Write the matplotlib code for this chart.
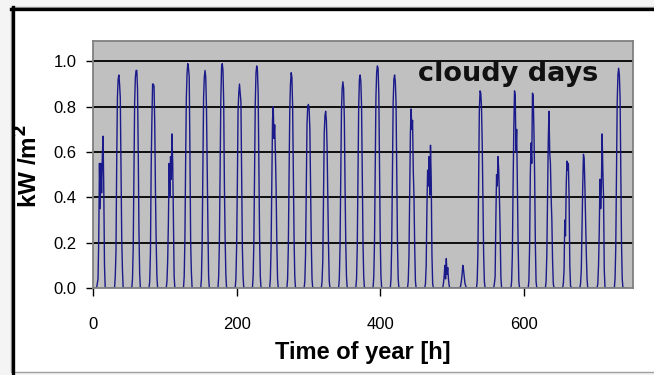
import numpy as np
import matplotlib
matplotlib.use("Agg")
import matplotlib.pyplot as plt
from matplotlib.patches import Rectangle
from matplotlib.lines import Line2D

# Hourly global irradiance [kW/m^2] for daylight hours 06:00 .. 18:00 of each day
first_daylight_hour = 6
week1 = [
    [0.02, 0.04, 0.22, 0.55, 0.35, 0.55, 0.42, 0.58, 0.67, 0.44, 0.10, 0.00, 0.00],
    [0.00, 0.05, 0.16, 0.55, 0.84, 0.92, 0.94, 0.90, 0.84, 0.55, 0.22, 0.08, 0.00],
    [0.00, 0.04, 0.18, 0.52, 0.82, 0.93, 0.96, 0.96, 0.88, 0.60, 0.25, 0.06, 0.00],
    [0.00, 0.03, 0.16, 0.53, 0.74, 0.90, 0.90, 0.89, 0.72, 0.42, 0.20, 0.05, 0.00],
    [0.00, 0.03, 0.12, 0.29, 0.55, 0.40, 0.58, 0.48, 0.68, 0.55, 0.30, 0.05, 0.00],
    [0.00, 0.05, 0.22, 0.56, 0.84, 0.95, 0.99, 0.97, 0.93, 0.60, 0.20, 0.07, 0.00],
    [0.00, 0.04, 0.20, 0.52, 0.84, 0.93, 0.96, 0.93, 0.80, 0.52, 0.28, 0.05, 0.00],
]
week2 = [
    [0.00, 0.05, 0.20, 0.50, 0.83, 0.97, 0.99, 0.96, 0.82, 0.45, 0.22, 0.06, 0.00],
    [0.00, 0.04, 0.18, 0.45, 0.78, 0.86, 0.90, 0.86, 0.82, 0.48, 0.18, 0.05, 0.00],
    [0.00, 0.05, 0.20, 0.50, 0.82, 0.95, 0.98, 0.96, 0.86, 0.55, 0.22, 0.05, 0.00],
    [0.00, 0.04, 0.18, 0.48, 0.74, 0.80, 0.66, 0.72, 0.60, 0.44, 0.20, 0.04, 0.00],
    [0.00, 0.04, 0.18, 0.50, 0.78, 0.90, 0.95, 0.93, 0.80, 0.50, 0.22, 0.05, 0.00],
    [0.00, 0.03, 0.15, 0.45, 0.72, 0.80, 0.81, 0.79, 0.70, 0.45, 0.20, 0.04, 0.00],
    [0.00, 0.03, 0.12, 0.40, 0.68, 0.76, 0.78, 0.74, 0.62, 0.40, 0.18, 0.03, 0.00],
]
week3 = [
    [0.00, 0.04, 0.18, 0.48, 0.78, 0.88, 0.91, 0.88, 0.75, 0.45, 0.20, 0.05, 0.00],
    [0.00, 0.04, 0.18, 0.50, 0.80, 0.92, 0.94, 0.91, 0.80, 0.50, 0.20, 0.05, 0.00],
    [0.00, 0.05, 0.20, 0.52, 0.84, 0.95, 0.98, 0.97, 0.86, 0.55, 0.22, 0.05, 0.00],
    [0.00, 0.04, 0.20, 0.52, 0.82, 0.92, 0.94, 0.91, 0.82, 0.50, 0.20, 0.04, 0.00],
    [0.00, 0.03, 0.14, 0.42, 0.68, 0.79, 0.70, 0.74, 0.52, 0.40, 0.18, 0.03, 0.00],
    [0.00, 0.02, 0.10, 0.35, 0.52, 0.45, 0.58, 0.41, 0.63, 0.48, 0.15, 0.02, 0.00],
    [0.00, 0.00, 0.02, 0.05, 0.10, 0.04, 0.13, 0.06, 0.09, 0.04, 0.01, 0.00, 0.00],
]
week4 = [
    [0.00, 0.00, 0.01, 0.03, 0.06, 0.10, 0.08, 0.05, 0.02, 0.01, 0.00, 0.00, 0.00],
    [0.00, 0.03, 0.15, 0.45, 0.78, 0.87, 0.86, 0.80, 0.64, 0.40, 0.15, 0.03, 0.00],
    [0.00, 0.02, 0.05, 0.30, 0.50, 0.45, 0.58, 0.52, 0.40, 0.25, 0.05, 0.00, 0.00],
    [0.00, 0.03, 0.15, 0.45, 0.70, 0.87, 0.85, 0.60, 0.70, 0.45, 0.20, 0.03, 0.00],
    [0.00, 0.03, 0.18, 0.50, 0.64, 0.55, 0.86, 0.85, 0.70, 0.50, 0.20, 0.03, 0.00],
    [0.00, 0.03, 0.15, 0.42, 0.65, 0.78, 0.60, 0.55, 0.40, 0.30, 0.12, 0.02, 0.00],
    [0.00, 0.02, 0.08, 0.30, 0.23, 0.45, 0.56, 0.52, 0.55, 0.40, 0.10, 0.01, 0.00],
]
week5 = [
    [0.00, 0.02, 0.08, 0.28, 0.45, 0.59, 0.57, 0.45, 0.30, 0.15, 0.04, 0.00, 0.00],
    [0.00, 0.02, 0.10, 0.25, 0.48, 0.35, 0.45, 0.68, 0.52, 0.40, 0.08, 0.00, 0.00],
    [0.00, 0.04, 0.18, 0.50, 0.82, 0.94, 0.97, 0.94, 0.84, 0.52, 0.20, 0.04, 0.00],
]

x_ticks = [0, 200, 400, 600]
y_ticks = [0.0, 0.2, 0.4, 0.6, 0.8, 1.0]
annotation = "cloudy days"

# Assemble the hourly time series (zero during the night)
days = week1 + week2 + week3 + week4 + week5
n_hours = 24 * len(days)
hours = np.arange(n_hours)
irradiance = np.zeros(n_hours)
for d, profile in enumerate(days):
    start = d * 24 + first_daylight_hour
    irradiance[start:start + len(profile)] = profile

W, H = 654, 375
fig = plt.figure(figsize=(W / 100, H / 100), dpi=100)
fig.patch.set_facecolor("#f4f4f4")

# Chart frame: white panel with a dark inset edge on the left and top
fig.add_artist(Rectangle((11 / W, 3 / H), (W - 9) / W, (H - 10) / H,
                         transform=fig.transFigure, facecolor="white",
                         edgecolor="#a0a0a0", linewidth=1.0, zorder=0))
fig.add_artist(Line2D([12.5 / W, 12.5 / W], [0, 1 - 7 / H], transform=fig.transFigure,
                      color="black", linewidth=2.4, zorder=1))
fig.add_artist(Line2D([11 / W, 1], [1 - 8.5 / H, 1 - 8.5 / H], transform=fig.transFigure,
                      color="black", linewidth=2.4, zorder=1))

left, right, bottom, top = 93 / W, 633 / W, 1 - 288 / H, 1 - 41 / H
ax = fig.add_axes([left, bottom, right - left, top - bottom])
ax.set_facecolor("#c0c0c0")

for yv in y_ticks[1:]:
    ax.axhline(yv, color="black", linewidth=1.3, zorder=1)

ax.plot(hours, irradiance, color="#1a1a8a", linewidth=1.0, zorder=2)

ax.set_xlim(0, 752)
ax.set_ylim(0, 1.09)
ax.set_xticks(x_ticks)
ax.set_yticks(y_ticks)

arial_like = ["Liberation Sans", "DejaVu Sans"]
tick_font = {"family": arial_like, "size": 12}
ax.set_xticklabels([str(v) for v in x_ticks], fontdict=tick_font)
ax.set_yticklabels([f"{v:.1f}" for v in y_ticks], fontdict=tick_font)
ax.tick_params(axis="y", direction="out", length=5, width=1.0, color="black", pad=7)
ax.tick_params(axis="x", direction="out", length=6, width=1.0, color="black", pad=15)

for s in ax.spines.values():
    s.set_color("#808080")
    s.set_linewidth(1.3)

fig.text(363 / W, 1 - 353 / H, "Time of year [h]", ha="center", va="center",
         fontsize=17, fontweight="bold", family=arial_like)
fig.text(29 / W, 1 - 166 / H, "kW /m$^\\mathbf{2}$", ha="center", va="center",
         rotation=90, fontsize=17.5, fontweight="bold", family=arial_like)

ax.text(453, 0.915, annotation, ha="left", va="baseline", fontsize=19.5,
        fontweight="bold", family=["DejaVu Sans"], color="#111111")

fig.savefig("out.png", dpi=100, facecolor=fig.get_facecolor())
